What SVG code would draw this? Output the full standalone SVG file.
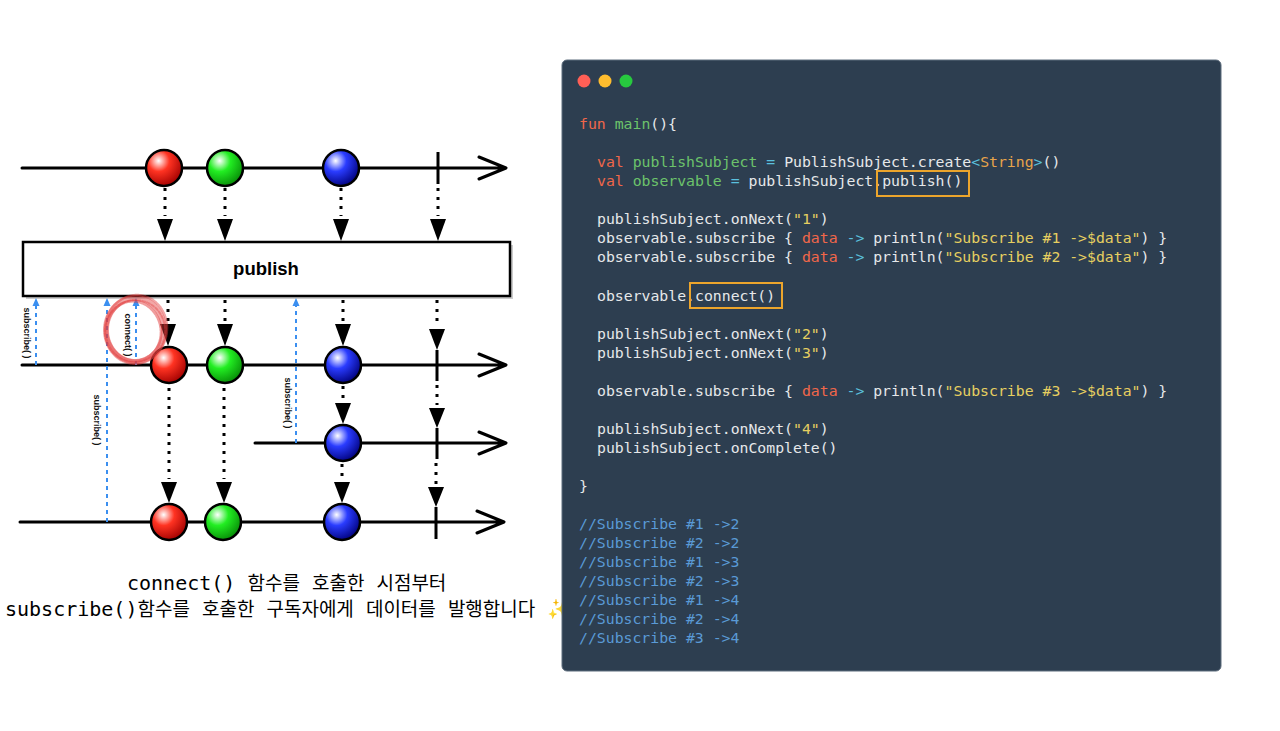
<svg xmlns="http://www.w3.org/2000/svg" width="1280" height="731" viewBox="0 0 1280 731">
<style>
.tl{stroke:#000;stroke-width:3;fill:none;stroke-linecap:round;stroke-linejoin:round}
.tick{stroke:#000;stroke-width:3}
.dot{stroke:#000;stroke-width:3;stroke-dasharray:3 6;fill:none}
.tri{fill:#000}
.sub{stroke:#3b8ff0;stroke-width:2;stroke-dasharray:4 4;fill:none}
.subh{fill:#3b8ff0}
.mb{stroke:#000;stroke-width:2.5}
.lbl{font-family:"Liberation Sans",Arial,sans-serif;font-weight:bold;font-size:9px;fill:#111}
.code{font-family:"DejaVu Sans Mono",monospace;font-size:14.8px;fill:#e6e8ea;white-space:pre}
.kw{fill:#f0674a}
.fn{fill:#6cc36b}
.op{fill:#5bc0de}
.str{fill:#e6cf60}
.ty{fill:#e8a44a}
.par{fill:#f0674a}
.cm{fill:#5a9ad6}
.hl{fill:none;stroke:#eca52c;stroke-width:2}
.cap{font-family:"DejaVu Sans Mono","Noto Sans CJK KR",monospace;font-size:20px;fill:#000;white-space:pre}
.ko{font-family:"Noto Sans CJK KR",sans-serif;font-size:19px}
</style>
<defs>
<radialGradient id="gr" cx="35%" cy="30%" r="75%"><stop offset="0" stop-color="#fff"/><stop offset="0.4" stop-color="#ff3322"/><stop offset="1" stop-color="#a00000"/></radialGradient>
<radialGradient id="gg" cx="35%" cy="30%" r="75%"><stop offset="0" stop-color="#fff"/><stop offset="0.4" stop-color="#22ee22"/><stop offset="1" stop-color="#078a07"/></radialGradient>
<radialGradient id="gb" cx="35%" cy="30%" r="75%"><stop offset="0" stop-color="#fff"/><stop offset="0.4" stop-color="#2a3cff"/><stop offset="1" stop-color="#00007a"/></radialGradient>
</defs>
<rect width="1280" height="731" fill="#fff"/>

<g id="timeline-source">
<path class="tl" d="M22 168H505M479 157L506 168L479 179"/>
<line class="tick" x1="438" y1="152" x2="438" y2="184"/>
<circle class="mb" cx="164" cy="168" r="18" fill="url(#gr)"/>
<circle class="mb" cx="225" cy="168" r="18" fill="url(#gg)"/>
<circle class="mb" cx="341" cy="168" r="18" fill="url(#gb)"/>
</g>

<g id="publish-box">
<rect x="26" y="245" width="487" height="54" fill="#aaa" opacity="0.6"/>
<rect x="23" y="242" width="487" height="54" fill="#fff" stroke="#000" stroke-width="2.5"/>
<text x="266" y="275" text-anchor="middle" font-family="Liberation Sans, Arial, sans-serif" font-weight="bold" font-size="18.5">publish</text>
</g>

<g id="timeline-1">
<path class="tl" d="M22 365H505M479 354L506 365L479 376"/>
<line class="tick" x1="437" y1="350" x2="437" y2="381"/>
<circle class="mb" cx="169" cy="365" r="18" fill="url(#gr)"/>
<circle class="mb" cx="225" cy="365" r="18" fill="url(#gg)"/>
<circle class="mb" cx="343" cy="365" r="18" fill="url(#gb)"/>
</g>

<g id="timeline-3">
<path class="tl" d="M255 443H505M479 432L506 443L479 454"/>
<line class="tick" x1="437" y1="428" x2="437" y2="459"/>
<circle class="mb" cx="343" cy="443" r="18" fill="url(#gb)"/>
</g>

<g id="timeline-2">
<path class="tl" d="M20 522H503M477 511L504 522L477 533"/>
<line class="tick" x1="436" y1="507" x2="436" y2="539"/>
<circle class="mb" cx="169" cy="522" r="18" fill="url(#gr)"/>
<circle class="mb" cx="223" cy="522" r="18" fill="url(#gg)"/>
<circle class="mb" cx="342" cy="522" r="18" fill="url(#gb)"/>
</g>

<g id="connectors">
<line class="dot" x1="165" y1="188" x2="165" y2="216"/><polygon class="tri" points="157,219 173,219 165,241"/>
<line class="dot" x1="225" y1="188" x2="225" y2="216"/><polygon class="tri" points="217,219 233,219 225,241"/>
<line class="dot" x1="341" y1="188" x2="341" y2="216"/><polygon class="tri" points="333,219 349,219 341,241"/>
<line class="dot" x1="438" y1="188" x2="438" y2="216"/><polygon class="tri" points="430,219 446,219 438,241"/>
<line class="dot" x1="168" y1="300" x2="168" y2="321"/><polygon class="tri" points="160,324 176,324 168,346"/>
<line class="dot" x1="225" y1="300" x2="225" y2="321"/><polygon class="tri" points="217,324 233,324 225,346"/>
<line class="dot" x1="343" y1="300" x2="343" y2="321"/><polygon class="tri" points="335,324 351,324 343,346"/>
<line class="dot" x1="437" y1="300" x2="437" y2="326"/><polygon class="tri" points="429,329 445,329 437,350"/>
<line class="dot" x1="343" y1="386" x2="343" y2="400"/><polygon class="tri" points="335,403 351,403 343,424"/>
<line class="dot" x1="437" y1="385" x2="437" y2="405"/><polygon class="tri" points="429,408 445,408 437,428"/>
<line class="dot" x1="169" y1="388" x2="169" y2="479"/><polygon class="tri" points="161,482 177,482 169,503"/>
<line class="dot" x1="224" y1="388" x2="224" y2="479"/><polygon class="tri" points="216,482 232,482 224,503"/>
<line class="dot" x1="342" y1="464" x2="342" y2="479"/><polygon class="tri" points="334,482 350,482 342,503"/>
<line class="dot" x1="436" y1="463" x2="436" y2="484"/><polygon class="tri" points="428,487 444,487 436,507"/>
<line class="sub" x1="36" y1="365" x2="36" y2="305"/><polygon class="subh" points="32.5,306 39.5,306 36,298"/>
<line class="sub" x1="107" y1="522" x2="107" y2="305"/><polygon class="subh" points="103.5,306 110.5,306 107,298"/>
<line class="sub" x1="136" y1="365" x2="136" y2="305"/><polygon class="subh" points="132.5,306 139.5,306 136,298"/>
<line class="sub" x1="296" y1="443" x2="296" y2="305"/><polygon class="subh" points="292.5,306 299.5,306 296,298"/>
</g>

<g id="call-labels">
<text class="lbl" transform="translate(23.5,333) rotate(90)" text-anchor="middle">subscribe( )</text>
<text class="lbl" transform="translate(125,335) rotate(90)" text-anchor="middle">connect( )</text>
<text class="lbl" transform="translate(93.5,420) rotate(90)" text-anchor="middle">subscribe( )</text>
<text class="lbl" transform="translate(284.5,403) rotate(90)" text-anchor="middle">subscribe( )</text>
</g>

<g id="connect-mark" fill="none" stroke="#e23c3c" stroke-linecap="round">
<ellipse cx="135" cy="330" rx="29" ry="32" stroke-width="6" opacity="0.45" stroke-dasharray="1.5 1.2"/>
<ellipse cx="134" cy="331" rx="27" ry="30" stroke-width="3" opacity="0.5" transform="rotate(-12 134 331)" stroke-dasharray="2.5 1"/>
<ellipse cx="136" cy="329" rx="31" ry="34" stroke-width="2.5" opacity="0.45" transform="rotate(8 136 329)" stroke-dasharray="1.2 1"/>
<ellipse cx="135" cy="331" rx="30" ry="31" stroke-width="2" opacity="0.4" transform="rotate(20 135 331)" stroke-dasharray="3 2"/>
</g>

<g id="caption">
<text class="cap" x="127" y="590">connect() <tspan class="ko">함수를</tspan> <tspan class="ko">호출한</tspan> <tspan class="ko">시점부터</tspan></text>
<text class="cap" x="5" y="616">subscribe()<tspan class="ko">함수를</tspan> <tspan class="ko">호출한</tspan> <tspan class="ko">구독자에게</tspan> <tspan class="ko">데이터를</tspan> <tspan class="ko">발행합니다</tspan> <tspan fill="#f2b632" font-family="DejaVu Sans, sans-serif">✨</tspan></text>
</g>

<g id="code-panel">
<rect x="562" y="60" width="659" height="611" rx="5" fill="#2d3e50" stroke="#5d6c7c" stroke-width="1"/>
<circle cx="584" cy="81" r="6.5" fill="#ff5f56"/>
<circle cx="605" cy="81" r="6.5" fill="#ffbd2e"/>
<circle cx="626" cy="81" r="6.5" fill="#27c93f"/>
<text class="code" x="579" y="129"><tspan class="kw">fun</tspan> <tspan class="fn">main</tspan>(){</text>
<text class="code" x="597" y="167"><tspan class="kw">val</tspan> <tspan class="fn">publishSubject</tspan> <tspan class="op">=</tspan> PublishSubject.create<tspan class="op">&lt;</tspan><tspan class="ty">String</tspan><tspan class="op">&gt;</tspan>()</text>
<text class="code" x="597" y="186"><tspan class="kw">val</tspan> <tspan class="fn">observable</tspan> <tspan class="op">=</tspan> publishSubject.publish()</text>
<text class="code" x="597" y="224">publishSubject.onNext(<tspan class="str">"1"</tspan>)</text>
<text class="code" x="597" y="243">observable.subscribe { <tspan class="par">data</tspan> <tspan class="op">-&gt;</tspan> println(<tspan class="str">"Subscribe #1 -&gt;$data"</tspan>) }</text>
<text class="code" x="597" y="262">observable.subscribe { <tspan class="par">data</tspan> <tspan class="op">-&gt;</tspan> println(<tspan class="str">"Subscribe #2 -&gt;$data"</tspan>) }</text>
<text class="code" x="597" y="301">observable.connect()</text>
<text class="code" x="597" y="339">publishSubject.onNext(<tspan class="str">"2"</tspan>)</text>
<text class="code" x="597" y="358">publishSubject.onNext(<tspan class="str">"3"</tspan>)</text>
<text class="code" x="597" y="396">observable.subscribe { <tspan class="par">data</tspan> <tspan class="op">-&gt;</tspan> println(<tspan class="str">"Subscribe #3 -&gt;$data"</tspan>) }</text>
<text class="code" x="597" y="434">publishSubject.onNext(<tspan class="str">"4"</tspan>)</text>
<text class="code" x="597" y="453">publishSubject.onComplete()</text>
<text class="code" x="579" y="491">}</text>
<text class="code cm" x="579" y="529">//Subscribe #1 -&gt;2</text>
<text class="code cm" x="579" y="548">//Subscribe #2 -&gt;2</text>
<text class="code cm" x="579" y="567">//Subscribe #1 -&gt;3</text>
<text class="code cm" x="579" y="586">//Subscribe #2 -&gt;3</text>
<text class="code cm" x="579" y="605">//Subscribe #1 -&gt;4</text>
<text class="code cm" x="579" y="624">//Subscribe #2 -&gt;4</text>
<text class="code cm" x="579" y="643">//Subscribe #3 -&gt;4</text>
<rect class="hl" x="877" y="171" width="92" height="25"/>
<rect class="hl" x="690" y="283" width="92" height="25"/>
</g>
</svg>
